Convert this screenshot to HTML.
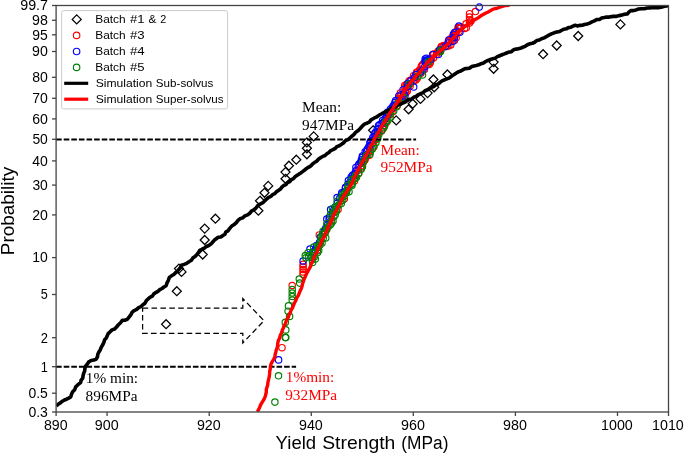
<!DOCTYPE html>
<html lang="en">
<head>
<meta charset="utf-8">
<title>Yield Strength Probability Plot</title>
<style>
html,body{margin:0;padding:0;background:#fff;}
body{width:685px;height:454px;overflow:hidden;font-family:"Liberation Sans",sans-serif;}
svg{display:block;will-change:transform;}
</style>
</head>
<body>
<svg width="685" height="454" viewBox="0 0 685 454" font-family="'Liberation Sans', sans-serif">
<rect x="0" y="0" width="685" height="454" fill="#fff"/>
<defs><clipPath id="ax"><rect x="56.1" y="5.5" width="612.4" height="406.5"/></clipPath></defs>
<g fill="none" stroke="#000" stroke-width="1.25">
<path d="M166.1 319.7L170.6 324.2L166.1 328.7L161.6 324.2Z"/>
<path d="M176.8 286.7L181.3 291.2L176.8 295.7L172.3 291.2Z"/>
<path d="M179.0 264.1L183.5 268.6L179.0 273.1L174.5 268.6Z"/>
<path d="M181.5 267.4L186.0 271.9L181.5 276.4L177.0 271.9Z"/>
<path d="M202.7 250.0L207.2 254.5L202.7 259.0L198.2 254.5Z"/>
<path d="M204.7 235.5L209.2 240.0L204.7 244.5L200.2 240.0Z"/>
<path d="M204.7 224.1L209.2 228.6L204.7 233.1L200.2 228.6Z"/>
<path d="M215.4 214.2L219.9 218.7L215.4 223.2L210.9 218.7Z"/>
<path d="M258.4 206.2L262.9 210.7L258.4 215.2L253.9 210.7Z"/>
<path d="M260.0 196.3L264.5 200.8L260.0 205.3L255.5 200.8Z"/>
<path d="M264.5 188.3L269.0 192.8L264.5 197.3L260.0 192.8Z"/>
<path d="M268.2 181.4L272.7 185.9L268.2 190.4L263.7 185.9Z"/>
<path d="M285.5 174.3L290.0 178.8L285.5 183.3L281.0 178.8Z"/>
<path d="M285.5 167.6L290.0 172.1L285.5 176.6L281.0 172.1Z"/>
<path d="M288.9 161.2L293.4 165.7L288.9 170.2L284.4 165.7Z"/>
<path d="M296.3 155.2L300.8 159.7L296.3 164.2L291.8 159.7Z"/>
<path d="M306.9 149.8L311.4 154.3L306.9 158.8L302.4 154.3Z"/>
<path d="M306.9 143.8L311.4 148.3L306.9 152.8L302.4 148.3Z"/>
<path d="M306.9 137.9L311.4 142.4L306.9 146.9L302.4 142.4Z"/>
<path d="M313.7 131.9L318.2 136.4L313.7 140.9L309.2 136.4Z"/>
<path d="M373.1 125.8L377.6 130.3L373.1 134.8L368.6 130.3Z"/>
<path d="M396.2 115.9L400.7 120.4L396.2 124.9L391.7 120.4Z"/>
<path d="M408.6 104.8L413.1 109.3L408.6 113.8L404.1 109.3Z"/>
<path d="M412.7 99.3L417.2 103.8L412.7 108.3L408.2 103.8Z"/>
<path d="M420.5 94.4L425.0 98.9L420.5 103.4L416.0 98.9Z"/>
<path d="M427.6 88.6L432.1 93.1L427.6 97.6L423.1 93.1Z"/>
<path d="M434.2 82.8L438.7 87.3L434.2 91.8L429.7 87.3Z"/>
<path d="M433.4 75.0L437.9 79.5L433.4 84.0L428.9 79.5Z"/>
<path d="M447.4 70.0L451.9 74.5L447.4 79.0L442.9 74.5Z"/>
<path d="M493.6 57.6L498.1 62.1L493.6 66.6L489.1 62.1Z"/>
<path d="M493.6 64.3L498.1 68.8L493.6 73.3L489.1 68.8Z"/>
<path d="M543.1 49.7L547.6 54.2L543.1 58.7L538.6 54.2Z"/>
<path d="M556.7 41.0L561.2 45.5L556.7 50.0L552.2 45.5Z"/>
<path d="M578.2 31.5L582.7 36.0L578.2 40.5L573.7 36.0Z"/>
<path d="M620.4 19.9L624.9 24.4L620.4 28.9L615.9 24.4Z"/>
</g>
<g fill="none" stroke="#ff0000" stroke-width="1.15">
<circle cx="282.0" cy="347.7" r="3.2"/>
<circle cx="292.2" cy="285.5" r="3.2"/>
<circle cx="303.1" cy="264.4" r="3.2"/>
<circle cx="303.1" cy="267.0" r="3.2"/>
<circle cx="303.1" cy="269.5" r="3.2"/>
<circle cx="303.1" cy="272.0" r="3.2"/>
<circle cx="303.1" cy="274.5" r="3.2"/>
<circle cx="319.3" cy="234.9" r="3.2"/>
<circle cx="475.4" cy="11.5" r="3.2"/>
<circle cx="469.5" cy="13.7" r="3.2"/>
<circle cx="469.5" cy="17.0" r="3.2"/>
<circle cx="469.5" cy="20.0" r="3.2"/>
<circle cx="469.5" cy="23.0" r="3.2"/>
<circle cx="471.0" cy="21.0" r="3.2"/>
<circle cx="458.0" cy="27.5" r="3.2"/>
<circle cx="317.6" cy="250.0" r="3.2"/>
<circle cx="325.1" cy="232.3" r="3.2"/>
<circle cx="331.2" cy="220.5" r="3.2"/>
<circle cx="338.1" cy="209.5" r="3.2"/>
<circle cx="344.4" cy="198.8" r="3.2"/>
<circle cx="354.5" cy="181.0" r="3.2"/>
<circle cx="355.2" cy="175.7" r="3.2"/>
<circle cx="355.3" cy="173.9" r="3.2"/>
<circle cx="358.7" cy="173.4" r="3.2"/>
<circle cx="358.3" cy="170.2" r="3.2"/>
<circle cx="361.0" cy="168.4" r="3.2"/>
<circle cx="361.5" cy="165.7" r="3.2"/>
<circle cx="363.4" cy="161.8" r="3.2"/>
<circle cx="364.7" cy="160.3" r="3.2"/>
<circle cx="365.4" cy="158.4" r="3.2"/>
<circle cx="367.1" cy="156.0" r="3.2"/>
<circle cx="369.4" cy="155.2" r="3.2"/>
<circle cx="369.1" cy="152.3" r="3.2"/>
<circle cx="370.7" cy="150.2" r="3.2"/>
<circle cx="369.8" cy="147.3" r="3.2"/>
<circle cx="373.7" cy="147.1" r="3.2"/>
<circle cx="372.7" cy="143.2" r="3.2"/>
<circle cx="373.7" cy="140.5" r="3.2"/>
<circle cx="377.0" cy="139.3" r="3.2"/>
<circle cx="375.9" cy="135.2" r="3.2"/>
<circle cx="379.1" cy="132.6" r="3.2"/>
<circle cx="381.5" cy="130.9" r="3.2"/>
<circle cx="382.9" cy="129.0" r="3.2"/>
<circle cx="384.4" cy="126.3" r="3.2"/>
<circle cx="385.1" cy="123.3" r="3.2"/>
<circle cx="386.6" cy="122.2" r="3.2"/>
<circle cx="386.3" cy="117.6" r="3.2"/>
<circle cx="387.4" cy="115.5" r="3.2"/>
<circle cx="390.0" cy="114.8" r="3.2"/>
<circle cx="390.8" cy="112.2" r="3.2"/>
<circle cx="392.8" cy="111.7" r="3.2"/>
<circle cx="392.8" cy="108.6" r="3.2"/>
<circle cx="393.5" cy="106.6" r="3.2"/>
<circle cx="397.3" cy="105.6" r="3.2"/>
<circle cx="398.4" cy="101.8" r="3.2"/>
<circle cx="398.2" cy="99.0" r="3.2"/>
<circle cx="400.9" cy="99.4" r="3.2"/>
<circle cx="401.8" cy="100.0" r="3.2"/>
<circle cx="399.7" cy="96.9" r="3.2"/>
<circle cx="402.7" cy="97.3" r="3.2"/>
<circle cx="400.8" cy="94.8" r="3.2"/>
<circle cx="403.4" cy="95.2" r="3.2"/>
<circle cx="400.4" cy="92.9" r="3.2"/>
<circle cx="403.9" cy="93.6" r="3.2"/>
<circle cx="405.8" cy="92.9" r="3.2"/>
<circle cx="405.9" cy="91.9" r="3.2"/>
<circle cx="405.4" cy="90.4" r="3.2"/>
<circle cx="407.3" cy="90.9" r="3.2"/>
<circle cx="404.9" cy="87.4" r="3.2"/>
<circle cx="404.7" cy="85.5" r="3.2"/>
<circle cx="408.2" cy="86.3" r="3.2"/>
<circle cx="406.8" cy="84.2" r="3.2"/>
<circle cx="410.1" cy="85.9" r="3.2"/>
<circle cx="410.5" cy="83.5" r="3.2"/>
<circle cx="409.1" cy="81.0" r="3.2"/>
<circle cx="410.7" cy="80.0" r="3.2"/>
<circle cx="413.4" cy="81.1" r="3.2"/>
<circle cx="414.6" cy="80.1" r="3.2"/>
<circle cx="415.9" cy="80.0" r="3.2"/>
<circle cx="413.6" cy="75.7" r="3.2"/>
<circle cx="417.3" cy="78.2" r="3.2"/>
<circle cx="417.5" cy="76.7" r="3.2"/>
<circle cx="416.4" cy="73.9" r="3.2"/>
<circle cx="416.5" cy="72.6" r="3.2"/>
<circle cx="417.6" cy="71.7" r="3.2"/>
<circle cx="421.0" cy="73.3" r="3.2"/>
<circle cx="420.8" cy="71.4" r="3.2"/>
<circle cx="419.7" cy="69.8" r="3.2"/>
<circle cx="421.7" cy="70.0" r="3.2"/>
<circle cx="424.4" cy="69.4" r="3.2"/>
<circle cx="421.3" cy="66.3" r="3.2"/>
<circle cx="422.5" cy="64.9" r="3.2"/>
<circle cx="423.0" cy="63.9" r="3.2"/>
<circle cx="427.0" cy="64.8" r="3.2"/>
<circle cx="427.6" cy="64.5" r="3.2"/>
<circle cx="429.2" cy="64.5" r="3.2"/>
<circle cx="428.6" cy="62.8" r="3.2"/>
<circle cx="430.4" cy="62.4" r="3.2"/>
<circle cx="429.5" cy="58.8" r="3.2"/>
<circle cx="431.6" cy="58.7" r="3.2"/>
<circle cx="433.5" cy="57.9" r="3.2"/>
<circle cx="432.7" cy="54.8" r="3.2"/>
<circle cx="433.8" cy="54.1" r="3.2"/>
<circle cx="436.5" cy="54.5" r="3.2"/>
<circle cx="437.5" cy="52.7" r="3.2"/>
<circle cx="438.3" cy="51.0" r="3.2"/>
<circle cx="440.3" cy="51.1" r="3.2"/>
<circle cx="440.9" cy="49.6" r="3.2"/>
<circle cx="441.0" cy="47.5" r="3.2"/>
<circle cx="441.4" cy="46.6" r="3.2"/>
<circle cx="442.0" cy="46.4" r="3.2"/>
<circle cx="443.5" cy="45.6" r="3.2"/>
<circle cx="446.2" cy="46.5" r="3.2"/>
<circle cx="447.6" cy="46.1" r="3.2"/>
<circle cx="448.9" cy="45.8" r="3.2"/>
<circle cx="450.7" cy="44.9" r="3.2"/>
<circle cx="448.5" cy="40.8" r="3.2"/>
<circle cx="450.1" cy="40.5" r="3.2"/>
<circle cx="451.9" cy="40.1" r="3.2"/>
<circle cx="454.4" cy="40.6" r="3.2"/>
<circle cx="452.0" cy="37.2" r="3.2"/>
<circle cx="453.6" cy="37.0" r="3.2"/>
<circle cx="456.1" cy="37.8" r="3.2"/>
<circle cx="454.2" cy="35.5" r="3.2"/>
<circle cx="455.7" cy="34.4" r="3.2"/>
<circle cx="454.6" cy="32.5" r="3.2"/>
<circle cx="456.8" cy="31.1" r="3.2"/>
<circle cx="458.9" cy="31.5" r="3.2"/>
<circle cx="458.9" cy="28.4" r="3.2"/>
<circle cx="459.9" cy="28.6" r="3.2"/>
<circle cx="460.9" cy="27.0" r="3.2"/>
<circle cx="464.6" cy="28.4" r="3.2"/>
<circle cx="466.3" cy="27.8" r="3.2"/>
<circle cx="466.1" cy="23.8" r="3.2"/>
</g>
<g fill="none" stroke="#0000ff" stroke-width="1.15">
<circle cx="278.6" cy="359.9" r="3.2"/>
<circle cx="303.1" cy="261.0" r="3.2"/>
<circle cx="310.0" cy="249.0" r="3.2"/>
<circle cx="326.8" cy="219.0" r="3.2"/>
<circle cx="330.6" cy="209.6" r="3.2"/>
<circle cx="337.1" cy="197.5" r="3.2"/>
<circle cx="341.8" cy="192.8" r="3.2"/>
<circle cx="345.6" cy="187.2" r="3.2"/>
<circle cx="348.4" cy="180.6" r="3.2"/>
<circle cx="351.2" cy="176.9" r="3.2"/>
<circle cx="479.2" cy="7.1" r="3.2"/>
<circle cx="458.9" cy="26.0" r="3.2"/>
<circle cx="449.0" cy="39.7" r="3.2"/>
<circle cx="453.4" cy="34.2" r="3.2"/>
<circle cx="413.7" cy="87.0" r="3.2"/>
<circle cx="404.9" cy="95.9" r="3.2"/>
<circle cx="425.2" cy="59.0" r="3.2"/>
<circle cx="425.8" cy="60.5" r="3.2"/>
<circle cx="426.4" cy="58.2" r="3.2"/>
<circle cx="425.0" cy="61.5" r="3.2"/>
<circle cx="311.0" cy="257.3" r="3.2"/>
<circle cx="312.9" cy="251.9" r="3.2"/>
<circle cx="315.3" cy="250.0" r="3.2"/>
<circle cx="316.5" cy="245.4" r="3.2"/>
<circle cx="319.6" cy="242.2" r="3.2"/>
<circle cx="320.5" cy="237.0" r="3.2"/>
<circle cx="323.0" cy="234.2" r="3.2"/>
<circle cx="324.4" cy="230.7" r="3.2"/>
<circle cx="325.7" cy="228.3" r="3.2"/>
<circle cx="327.8" cy="224.4" r="3.2"/>
<circle cx="329.1" cy="219.5" r="3.2"/>
<circle cx="329.4" cy="217.2" r="3.2"/>
<circle cx="332.4" cy="213.5" r="3.2"/>
<circle cx="333.8" cy="210.1" r="3.2"/>
<circle cx="335.6" cy="206.4" r="3.2"/>
<circle cx="337.6" cy="202.7" r="3.2"/>
<circle cx="339.7" cy="198.3" r="3.2"/>
<circle cx="341.6" cy="194.4" r="3.2"/>
<circle cx="344.3" cy="191.8" r="3.2"/>
<circle cx="345.4" cy="188.1" r="3.2"/>
<circle cx="347.8" cy="184.5" r="3.2"/>
<circle cx="349.9" cy="182.2" r="3.2"/>
<circle cx="351.3" cy="178.8" r="3.2"/>
<circle cx="352.7" cy="175.0" r="3.2"/>
<circle cx="354.4" cy="175.3" r="3.2"/>
<circle cx="355.1" cy="174.7" r="3.2"/>
<circle cx="355.4" cy="171.9" r="3.2"/>
<circle cx="356.5" cy="170.3" r="3.2"/>
<circle cx="355.9" cy="167.4" r="3.2"/>
<circle cx="358.3" cy="165.4" r="3.2"/>
<circle cx="359.0" cy="163.9" r="3.2"/>
<circle cx="360.7" cy="162.6" r="3.2"/>
<circle cx="361.5" cy="161.2" r="3.2"/>
<circle cx="361.4" cy="159.7" r="3.2"/>
<circle cx="362.4" cy="157.3" r="3.2"/>
<circle cx="362.4" cy="155.9" r="3.2"/>
<circle cx="365.5" cy="155.3" r="3.2"/>
<circle cx="365.2" cy="151.8" r="3.2"/>
<circle cx="366.6" cy="151.2" r="3.2"/>
<circle cx="367.4" cy="148.9" r="3.2"/>
<circle cx="368.8" cy="146.7" r="3.2"/>
<circle cx="370.1" cy="145.8" r="3.2"/>
<circle cx="369.9" cy="143.4" r="3.2"/>
<circle cx="370.2" cy="142.0" r="3.2"/>
<circle cx="371.1" cy="140.7" r="3.2"/>
<circle cx="373.0" cy="139.8" r="3.2"/>
<circle cx="372.8" cy="137.4" r="3.2"/>
<circle cx="374.1" cy="136.4" r="3.2"/>
<circle cx="374.6" cy="133.7" r="3.2"/>
<circle cx="375.3" cy="132.6" r="3.2"/>
<circle cx="377.3" cy="132.3" r="3.2"/>
<circle cx="377.2" cy="129.5" r="3.2"/>
<circle cx="378.5" cy="128.5" r="3.2"/>
<circle cx="378.6" cy="125.5" r="3.2"/>
<circle cx="379.9" cy="124.5" r="3.2"/>
<circle cx="382.0" cy="123.4" r="3.2"/>
<circle cx="383.1" cy="122.6" r="3.2"/>
<circle cx="382.6" cy="120.4" r="3.2"/>
<circle cx="385.1" cy="118.7" r="3.2"/>
<circle cx="386.1" cy="117.7" r="3.2"/>
<circle cx="386.7" cy="115.9" r="3.2"/>
<circle cx="388.4" cy="114.7" r="3.2"/>
<circle cx="387.5" cy="112.3" r="3.2"/>
<circle cx="389.4" cy="111.6" r="3.2"/>
<circle cx="390.6" cy="108.9" r="3.2"/>
<circle cx="392.1" cy="108.0" r="3.2"/>
<circle cx="393.1" cy="106.0" r="3.2"/>
<circle cx="394.0" cy="104.9" r="3.2"/>
<circle cx="394.9" cy="102.6" r="3.2"/>
<circle cx="395.7" cy="100.5" r="3.2"/>
<circle cx="399.7" cy="100.7" r="3.2"/>
<circle cx="398.8" cy="96.0" r="3.2"/>
<circle cx="404.1" cy="93.8" r="3.2"/>
<circle cx="403.1" cy="89.7" r="3.2"/>
<circle cx="407.3" cy="86.7" r="3.2"/>
<circle cx="407.9" cy="83.5" r="3.2"/>
<circle cx="410.9" cy="80.8" r="3.2"/>
<circle cx="414.5" cy="77.5" r="3.2"/>
<circle cx="415.8" cy="74.7" r="3.2"/>
<circle cx="420.6" cy="72.3" r="3.2"/>
<circle cx="423.0" cy="69.7" r="3.2"/>
<circle cx="424.7" cy="66.7" r="3.2"/>
<circle cx="425.6" cy="62.4" r="3.2"/>
<circle cx="430.6" cy="59.5" r="3.2"/>
<circle cx="432.9" cy="54.4" r="3.2"/>
<circle cx="438.4" cy="54.5" r="3.2"/>
<circle cx="439.7" cy="50.1" r="3.2"/>
<circle cx="445.1" cy="46.6" r="3.2"/>
<circle cx="448.0" cy="42.9" r="3.2"/>
<circle cx="452.9" cy="41.3" r="3.2"/>
<circle cx="454.3" cy="37.7" r="3.2"/>
<circle cx="454.9" cy="32.4" r="3.2"/>
<circle cx="459.9" cy="32.2" r="3.2"/>
</g>
<g fill="none" stroke="#008000" stroke-width="1.15">
<circle cx="274.9" cy="402.1" r="3.2"/>
<circle cx="278.5" cy="375.8" r="3.2"/>
<circle cx="285.8" cy="337.6" r="3.2"/>
<circle cx="285.3" cy="337.4" r="3.2"/>
<circle cx="285.8" cy="329.9" r="3.2"/>
<circle cx="285.3" cy="322.4" r="3.2"/>
<circle cx="289.6" cy="316.4" r="3.2"/>
<circle cx="288.1" cy="311.2" r="3.2"/>
<circle cx="288.5" cy="305.9" r="3.2"/>
<circle cx="292.2" cy="300.0" r="3.2"/>
<circle cx="292.2" cy="296.5" r="3.2"/>
<circle cx="292.2" cy="293.0" r="3.2"/>
<circle cx="292.2" cy="289.6" r="3.2"/>
<circle cx="299.7" cy="283.1" r="3.2"/>
<circle cx="299.3" cy="279.0" r="3.2"/>
<circle cx="305.9" cy="257.8" r="3.2"/>
<circle cx="308.7" cy="256.0" r="3.2"/>
<circle cx="305.3" cy="255.5" r="3.2"/>
<circle cx="308.1" cy="252.7" r="3.2"/>
<circle cx="313.7" cy="247.1" r="3.2"/>
<circle cx="320.3" cy="242.4" r="3.2"/>
<circle cx="321.2" cy="236.8" r="3.2"/>
<circle cx="323.1" cy="231.2" r="3.2"/>
<circle cx="326.8" cy="223.7" r="3.2"/>
<circle cx="330.6" cy="214.3" r="3.2"/>
<circle cx="332.5" cy="208.7" r="3.2"/>
<circle cx="337.1" cy="201.2" r="3.2"/>
<circle cx="342.8" cy="194.7" r="3.2"/>
<circle cx="346.5" cy="190.9" r="3.2"/>
<circle cx="351.2" cy="184.4" r="3.2"/>
<circle cx="354.9" cy="178.7" r="3.2"/>
<circle cx="440.8" cy="50.2" r="3.2"/>
<circle cx="422.5" cy="74.9" r="3.2"/>
<circle cx="312.6" cy="262.4" r="3.2"/>
<circle cx="312.3" cy="259.8" r="3.2"/>
<circle cx="315.3" cy="258.9" r="3.2"/>
<circle cx="314.4" cy="256.8" r="3.2"/>
<circle cx="314.2" cy="255.4" r="3.2"/>
<circle cx="313.2" cy="253.1" r="3.2"/>
<circle cx="317.6" cy="252.6" r="3.2"/>
<circle cx="318.7" cy="250.6" r="3.2"/>
<circle cx="317.8" cy="247.4" r="3.2"/>
<circle cx="318.1" cy="245.9" r="3.2"/>
<circle cx="320.0" cy="244.9" r="3.2"/>
<circle cx="322.0" cy="242.9" r="3.2"/>
<circle cx="321.0" cy="240.1" r="3.2"/>
<circle cx="323.2" cy="238.3" r="3.2"/>
<circle cx="325.7" cy="237.9" r="3.2"/>
<circle cx="322.8" cy="234.2" r="3.2"/>
<circle cx="325.0" cy="232.9" r="3.2"/>
<circle cx="326.7" cy="229.8" r="3.2"/>
<circle cx="327.0" cy="228.2" r="3.2"/>
<circle cx="328.8" cy="226.1" r="3.2"/>
<circle cx="330.4" cy="224.8" r="3.2"/>
<circle cx="331.6" cy="223.0" r="3.2"/>
<circle cx="333.0" cy="221.0" r="3.2"/>
<circle cx="331.0" cy="216.8" r="3.2"/>
<circle cx="333.9" cy="216.8" r="3.2"/>
<circle cx="335.2" cy="214.8" r="3.2"/>
<circle cx="334.3" cy="211.8" r="3.2"/>
<circle cx="336.3" cy="211.6" r="3.2"/>
<circle cx="336.7" cy="208.8" r="3.2"/>
<circle cx="335.8" cy="206.8" r="3.2"/>
<circle cx="339.0" cy="204.8" r="3.2"/>
<circle cx="341.3" cy="203.5" r="3.2"/>
<circle cx="340.8" cy="201.2" r="3.2"/>
<circle cx="342.7" cy="200.2" r="3.2"/>
<circle cx="341.8" cy="197.0" r="3.2"/>
<circle cx="343.9" cy="196.6" r="3.2"/>
<circle cx="345.2" cy="193.0" r="3.2"/>
<circle cx="346.5" cy="192.7" r="3.2"/>
<circle cx="349.0" cy="191.7" r="3.2"/>
<circle cx="347.5" cy="188.9" r="3.2"/>
<circle cx="348.0" cy="185.3" r="3.2"/>
<circle cx="352.0" cy="185.6" r="3.2"/>
<circle cx="352.3" cy="183.3" r="3.2"/>
<circle cx="351.4" cy="179.8" r="3.2"/>
<circle cx="355.0" cy="178.3" r="3.2"/>
<circle cx="356.5" cy="177.3" r="3.2"/>
<circle cx="355.4" cy="175.7" r="3.2"/>
<circle cx="358.6" cy="173.2" r="3.2"/>
<circle cx="361.2" cy="169.2" r="3.2"/>
<circle cx="362.5" cy="166.6" r="3.2"/>
<circle cx="362.8" cy="162.9" r="3.2"/>
<circle cx="364.2" cy="160.0" r="3.2"/>
<circle cx="366.3" cy="155.6" r="3.2"/>
<circle cx="370.0" cy="154.3" r="3.2"/>
<circle cx="370.2" cy="151.8" r="3.2"/>
<circle cx="372.4" cy="149.1" r="3.2"/>
<circle cx="374.0" cy="145.8" r="3.2"/>
<circle cx="375.9" cy="142.7" r="3.2"/>
<circle cx="377.8" cy="138.3" r="3.2"/>
<circle cx="378.8" cy="134.4" r="3.2"/>
<circle cx="381.5" cy="130.7" r="3.2"/>
<circle cx="383.6" cy="127.7" r="3.2"/>
<circle cx="384.6" cy="125.6" r="3.2"/>
<circle cx="385.7" cy="122.0" r="3.2"/>
<circle cx="387.8" cy="120.6" r="3.2"/>
<circle cx="390.2" cy="117.7" r="3.2"/>
<circle cx="389.9" cy="113.6" r="3.2"/>
<circle cx="393.7" cy="110.8" r="3.2"/>
<circle cx="396.7" cy="106.8" r="3.2"/>
<circle cx="398.7" cy="102.4" r="3.2"/>
<circle cx="403.6" cy="97.6" r="3.2"/>
<circle cx="409.2" cy="83.9" r="3.2"/>
<circle cx="418.1" cy="76.0" r="3.2"/>
<circle cx="428.7" cy="61.6" r="3.2"/>
<circle cx="440.4" cy="51.7" r="3.2"/>
</g>
<path d="M56.1 139.45H416.1" stroke="#000" stroke-width="2.1" stroke-dasharray="5.6 2.0" fill="none"/>
<path d="M56.1 366.7H296.1" stroke="#000" stroke-width="2.1" stroke-dasharray="5.6 2.0" fill="none"/>
<g clip-path="url(#ax)" fill="none" stroke-linejoin="round" stroke-linecap="butt">
<path d="M56.30 406.10L58.15 404.24L60.40 402.87L62.40 401.20L64.41 400.02L66.60 399.20L68.69 398.17L70.70 397.00L71.50 394.31L72.67 391.81L74.71 389.74L75.60 387.10L77.92 384.65L80.60 382.60L81.16 380.14L82.78 378.05L83.10 375.50L83.67 373.22L84.66 371.04L84.87 368.67L85.50 366.40L87.27 364.19L88.80 361.80L91.17 360.51L93.85 360.07L96.30 359.00L97.49 356.62L97.90 354.00L99.02 351.81L100.34 349.72L101.20 347.40L102.77 344.79L104.00 342.00L104.62 339.69L106.35 337.93L107.24 335.74L108.20 333.60L110.14 331.78L112.03 329.90L114.68 328.96L116.50 327.00L118.41 324.78L120.55 322.76L122.30 320.40L124.84 320.26L127.20 319.30L129.06 317.03L130.91 314.76L132.20 312.10L134.27 310.52L136.67 309.41L138.59 307.61L141.03 306.57L142.90 304.70L144.99 303.21L146.19 300.82L148.02 299.07L149.88 297.35L152.26 296.15L153.70 294.00L155.73 292.56L157.91 291.35L159.78 289.67L161.97 288.47L163.96 286.98L166.10 285.70L167.05 282.87L168.39 280.20L169.40 277.40L171.51 275.82L173.78 274.45L175.68 272.61L177.60 270.80L179.93 268.32L181.50 265.30L184.15 264.40L186.69 263.28L189.01 261.72L191.40 260.30L192.78 258.08L195.02 256.59L196.77 254.69L198.38 252.67L199.70 250.40L202.01 249.24L204.36 248.16L206.37 246.45L208.80 245.50L210.89 244.10L212.55 242.21L214.19 240.30L216.20 238.80L218.22 237.27L220.84 236.95L222.90 235.50L224.93 234.24L225.87 231.89L228.07 230.80L229.41 228.85L230.85 227.01L232.61 225.47L234.62 224.20L236.35 222.63L237.70 220.70L239.92 218.82L242.71 217.91L244.87 215.92L247.60 214.90L249.76 213.26L251.47 211.12L253.88 209.75L255.96 208.01L257.60 205.80L260.07 204.04L262.85 202.71L265.00 200.50L266.84 198.95L268.65 197.36L270.94 196.45L272.54 194.56L274.80 193.60L276.42 191.79L278.40 190.41L280.38 189.03L281.89 187.09L283.64 185.44L286.06 184.58L287.50 182.55L289.79 181.54L291.30 179.60L293.42 178.60L294.95 176.79L296.86 175.51L298.76 174.22L300.71 172.98L302.54 171.59L304.38 170.20L306.20 168.80L308.34 167.36L310.62 166.09L312.39 164.16L314.40 162.54L316.66 161.24L318.40 159.27L320.51 157.78L322.70 156.40L325.06 155.50L326.86 153.74L328.95 152.43L330.71 150.60L333.02 149.63L335.20 148.45L336.94 146.59L339.30 145.70L341.51 144.26L343.66 142.74L345.44 140.69L347.94 139.65L350.00 138.00L351.89 136.14L353.97 134.48L355.64 132.38L357.82 130.83L359.76 129.02L361.50 127.00L363.13 125.19L365.09 123.84L367.41 123.01L369.53 121.88L371.01 119.86L373.10 118.70L375.14 117.52L377.27 116.51L379.19 115.11L381.28 114.02L383.31 112.83L385.41 111.75L387.59 110.83L389.60 109.60L391.70 108.30L393.94 107.28L396.33 106.57L398.17 104.73L400.63 104.17L402.80 103.00L405.12 102.13L407.11 100.61L409.26 99.43L411.75 98.90L413.67 97.24L416.00 96.40L418.15 94.78L420.60 93.70L423.07 92.63L425.06 90.74L427.60 89.80L429.55 88.41L431.61 87.21L433.94 86.47L435.77 84.88L438.05 84.05L439.90 82.50L442.05 80.92L444.45 79.82L446.94 78.87L449.38 77.83L451.50 76.20L453.79 74.83L455.99 73.30L458.25 71.88L460.80 70.95L463.10 69.60L465.20 68.59L467.60 68.56L469.81 67.91L471.80 66.53L474.03 65.95L476.30 65.50L478.78 64.86L481.07 63.73L483.50 62.94L485.66 61.51L487.93 60.34L490.36 59.55L492.80 58.80L495.25 58.12L497.34 56.61L499.69 55.70L502.04 54.80L504.40 53.90L506.57 52.98L508.76 52.14L511.16 51.83L513.07 50.21L515.21 49.22L517.60 48.90L520.25 48.33L522.68 47.25L525.19 46.33L527.41 44.75L529.90 43.80L532.42 43.25L534.73 42.23L536.74 40.52L539.29 40.05L541.50 38.80L544.14 37.91L546.53 36.51L548.93 35.14L551.40 33.90L554.10 32.84L556.88 32.07L559.70 31.40L561.79 30.24L563.92 29.19L566.34 28.84L568.41 27.65L570.83 27.30L572.90 26.10L575.15 25.28L577.60 25.90L579.89 25.35L582.24 25.28L584.50 24.50L587.12 24.01L589.60 23.11L591.95 21.88L594.40 20.90L596.71 19.57L599.44 19.51L601.71 18.08L604.30 17.60L606.69 17.05L609.16 17.11L611.55 16.63L613.95 16.17L616.45 16.41L618.80 15.60L621.69 15.15L624.50 14.30L627.40 13.90L628.86 12.06L630.70 10.60L633.40 10.64L636.00 9.90L638.60 9.00L641.45 8.70L644.33 8.76L647.13 8.01L650.00 7.90L652.73 7.42L655.50 7.64L658.27 7.80L661.00 7.30L664.50 6.30L668.60 5.70" stroke="#000" stroke-width="3.6"/>
<path d="M257.40 411.80L258.60 409.40L259.80 406.99L260.80 404.50L262.42 401.95L263.97 399.36L265.20 396.60L265.79 394.28L266.35 391.95L266.27 389.50L266.98 387.20L267.71 384.90L267.90 382.50L268.55 379.58L269.27 376.68L269.60 373.70L269.72 371.24L270.28 368.85L270.50 366.40L271.00 364.00L272.32 361.68L273.64 359.35L274.90 357.00L275.13 354.55L275.76 352.19L276.31 349.81L277.20 347.51L277.63 345.11L277.79 342.64L278.50 340.30L279.65 337.91L280.26 335.30L281.51 332.95L282.21 330.38L283.40 328.00L284.06 325.70L285.47 323.72L286.04 321.38L286.98 319.20L288.33 317.20L289.00 314.90L290.32 312.57L291.13 310.01L292.61 307.76L293.50 305.23L294.60 302.80L295.84 300.41L296.72 297.85L298.26 295.59L299.26 293.09L300.30 290.60L301.33 288.51L302.06 286.31L302.49 284.01L303.29 281.84L303.94 279.62L304.90 277.50L305.85 275.14L306.95 272.86L308.21 270.67L309.52 268.49L310.60 266.20L311.24 263.85L312.54 261.76L313.27 259.44L314.17 257.20L315.20 255.00L316.50 252.75L317.45 250.34L318.49 247.97L319.70 245.68L320.95 243.41L321.73 240.91L323.10 238.70L324.40 236.53L324.93 234.00L326.37 231.90L327.47 229.63L328.06 227.14L329.52 225.04L330.34 222.64L331.50 220.41L332.50 218.10L333.27 215.88L334.32 213.80L335.43 211.75L336.88 209.87L337.50 207.57L338.84 205.63L339.96 203.59L341.00 201.51L341.80 199.30L343.06 197.12L344.41 195.00L345.84 192.92L347.31 190.87L348.32 188.53L349.98 186.61L351.20 184.40L352.37 182.35L353.42 180.24L353.99 177.91L355.49 176.02L356.04 173.67L357.19 171.61L358.35 169.55L359.30 167.40L360.73 165.38L361.65 163.07L363.16 161.10L364.18 158.84L365.27 156.63L366.49 154.49L367.80 152.40L368.71 150.13L369.74 147.92L370.86 145.76L372.24 143.72L373.48 141.62L374.30 139.30L375.37 137.02L376.56 134.80L378.30 132.90L379.32 130.58L380.50 128.36L381.80 126.20L383.01 123.97L384.53 121.94L385.99 119.88L387.15 117.61L388.47 115.46L389.63 113.20L391.20 111.20L392.77 109.34L393.70 107.04L395.30 105.20L396.83 103.31L397.85 101.07L399.40 99.20L400.86 97.05L402.31 94.90L403.49 92.58L404.91 90.41L406.10 88.10L407.58 85.97L409.39 84.11L410.92 82.02L412.90 80.31L414.40 78.20L415.83 76.29L417.42 74.52L419.20 72.89L420.65 71.00L422.23 69.22L423.51 67.18L425.05 65.36L426.68 63.62L428.10 61.70L429.92 60.04L431.68 58.31L433.56 56.71L435.29 54.94L437.22 53.40L439.10 51.80L441.13 50.37L442.95 48.71L444.65 46.91L446.43 45.20L448.20 43.48L450.10 41.90L451.37 39.91L452.93 38.15L454.63 36.51L456.14 34.70L457.37 32.68L458.90 30.90L461.20 29.36L463.40 27.68L465.57 25.97L467.70 24.20L469.95 22.91L472.18 21.58L474.26 20.01L476.50 18.70L478.79 17.43L480.88 15.84L483.17 14.57L485.40 13.20L487.67 12.24L489.85 11.10L491.94 9.79L494.20 8.80L497.03 8.23L499.73 7.24L502.46 6.37L505.20 5.50L509.60 5.30" stroke="#ff0000" stroke-width="3.4"/>
</g>
<path d="M142.6 308.1H242.8V298.6L264 320.7L242.8 343V333.3H142.6Z" fill="none" stroke="#000" stroke-width="1.25" stroke-dasharray="5.6 3.3"/>
<rect x="56.1" y="5.5" width="612.4" height="406.5" fill="none" stroke="#444" stroke-width="1.3"/>
<g stroke="#444" stroke-width="1.3">
<path d="M52.0 5.5H56.1"/>
<path d="M52.0 20.3H56.1"/>
<path d="M52.0 34.8H56.1"/>
<path d="M52.0 51.5H56.1"/>
<path d="M52.0 77.3H56.1"/>
<path d="M52.0 98.3H56.1"/>
<path d="M52.0 118.9H56.1"/>
<path d="M52.0 139.3H56.1"/>
<path d="M52.0 160.9H56.1"/>
<path d="M52.0 185.1H56.1"/>
<path d="M52.0 214.9H56.1"/>
<path d="M52.0 257.6H56.1"/>
<path d="M52.0 294.5H56.1"/>
<path d="M52.0 337.7H56.1"/>
<path d="M52.0 366.7H56.1"/>
<path d="M52.0 393.2H56.1"/>
<path d="M52.0 412.0H56.1"/>
<path d="M56.1 412.0V416.0"/>
<path d="M107.1 412.0V416.0"/>
<path d="M209.2 412.0V416.0"/>
<path d="M311.3 412.0V416.0"/>
<path d="M413.3 412.0V416.0"/>
<path d="M515.4 412.0V416.0"/>
<path d="M617.5 412.0V416.0"/>
<path d="M668.5 412.0V416.0"/>
</g>
<text transform="translate(20.23 10.35) scale(1.0014 1)" font-size="14.26" fill="#000">99.7</text>
<text transform="translate(32.11 25.15) scale(0.9975 1)" font-size="14.26" fill="#000">98</text>
<text transform="translate(32.35 39.65) scale(0.9798 1)" font-size="14.26" fill="#000">95</text>
<text transform="translate(32.08 56.35) scale(0.9948 1)" font-size="14.26" fill="#000">90</text>
<text transform="translate(32.22 82.15) scale(0.9857 1)" font-size="14.26" fill="#000">80</text>
<text transform="translate(32.27 103.15) scale(0.9822 1)" font-size="14.26" fill="#000">70</text>
<text transform="translate(32.14 123.75) scale(0.9907 1)" font-size="14.26" fill="#000">60</text>
<text transform="translate(32.39 144.15) scale(0.9746 1)" font-size="14.26" fill="#000">50</text>
<text transform="translate(32.28 165.75) scale(0.9817 1)" font-size="14.26" fill="#000">40</text>
<text transform="translate(32.39 189.95) scale(0.9744 1)" font-size="14.26" fill="#000">30</text>
<text transform="translate(32.18 219.75) scale(0.9885 1)" font-size="14.26" fill="#000">20</text>
<text transform="translate(32.31 262.45) scale(0.9798 1)" font-size="14.26" fill="#000">10</text>
<text transform="translate(40.79 299.35) scale(0.8859 1)" font-size="14.26" fill="#000">5</text>
<text transform="translate(40.78 342.55) scale(0.9052 1)" font-size="14.26" fill="#000">2</text>
<text transform="translate(40.82 371.55) scale(0.8957 1)" font-size="14.26" fill="#000">1</text>
<text transform="translate(28.45 398.05) scale(0.9789 1)" font-size="14.26" fill="#000">0.5</text>
<text transform="translate(28.38 416.85) scale(0.9842 1)" font-size="14.26" fill="#000">0.3</text>
<text transform="translate(43.92 429.70) scale(0.9957 1)" font-size="14.26" fill="#000">890</text>
<text transform="translate(94.85 429.70) scale(1.0017 1)" font-size="14.26" fill="#000">900</text>
<text transform="translate(196.92 429.70) scale(1.0017 1)" font-size="14.26" fill="#000">920</text>
<text transform="translate(298.98 429.70) scale(1.0017 1)" font-size="14.26" fill="#000">940</text>
<text transform="translate(401.05 429.70) scale(1.0017 1)" font-size="14.26" fill="#000">960</text>
<text transform="translate(503.12 429.70) scale(1.0017 1)" font-size="14.26" fill="#000">980</text>
<text transform="translate(601.04 429.70) scale(1.0003 1)" font-size="14.26" fill="#000">1000</text>
<text transform="translate(652.08 429.70) scale(1.0003 1)" font-size="14.26" fill="#000">1010</text>
<text transform="translate(275.58 449.10) scale(1.0403 1)" font-size="17.84" fill="#000">Yield</text>
<text transform="translate(322.16 449.10) scale(1.0859 1)" font-size="17.84" fill="#000">Strength</text>
<text transform="translate(401.32 449.10) scale(0.9715 1)" font-size="17.84" fill="#000">(MPa)</text>
<g transform="translate(14.3 253.6) rotate(-90)">
<text transform="translate(-1.56 0.00) scale(1.0599 1)" font-size="17.84" fill="#000">Probability</text>
</g>
<rect x="61.6" y="10.6" width="166.0" height="98.3" rx="2" ry="2" fill="#fff" fill-opacity="0.8" stroke="#ccc" stroke-width="1"/>
<path d="M76.7 14.899999999999999L81.2 19.4L76.7 23.9L72.2 19.4Z" fill="none" stroke="#000" stroke-width="1.25"/>
<circle cx="76.6" cy="35.4" r="3.25" fill="none" stroke="#ff0000" stroke-width="1.15"/>
<circle cx="76.6" cy="51.5" r="3.25" fill="none" stroke="#0000ff" stroke-width="1.15"/>
<circle cx="76.6" cy="67.4" r="3.25" fill="none" stroke="#008000" stroke-width="1.15"/>
<path d="M64.2 83.3H88.2" stroke="#000" stroke-width="3.2"/>
<path d="M64.2 99.2H88.2" stroke="#ff0000" stroke-width="3.2"/>
<text transform="translate(95.22 22.90) scale(1.0533 1)" font-size="11.32" fill="#000">Batch</text>
<text transform="translate(129.95 22.90) scale(1.1622 1)" font-size="11.32" fill="#000">#1</text>
<text transform="translate(148.55 22.90) scale(1.0447 1)" font-size="11.32" fill="#000">&amp;</text>
<text transform="translate(160.23 22.90) scale(0.9573 1)" font-size="11.32" fill="#000">2</text>
<text transform="translate(95.22 38.85) scale(1.0533 1)" font-size="11.32" fill="#000">Batch</text>
<text transform="translate(129.95 38.85) scale(1.1656 1)" font-size="11.32" fill="#000">#3</text>
<text transform="translate(95.22 54.80) scale(1.0533 1)" font-size="11.32" fill="#000">Batch</text>
<text transform="translate(129.95 54.80) scale(1.1712 1)" font-size="11.32" fill="#000">#4</text>
<text transform="translate(95.22 70.75) scale(1.0533 1)" font-size="11.32" fill="#000">Batch</text>
<text transform="translate(129.95 70.75) scale(1.1584 1)" font-size="11.32" fill="#000">#5</text>
<text transform="translate(95.66 86.70) scale(1.0699 1)" font-size="11.32" fill="#000">Simulation</text>
<text transform="translate(155.85 86.70) scale(1.0269 1)" font-size="11.32" fill="#000">Sub-solvus</text>
<text transform="translate(95.66 102.65) scale(1.0699 1)" font-size="11.32" fill="#000">Simulation</text>
<text transform="translate(155.85 102.65) scale(1.0261 1)" font-size="11.32" fill="#000">Super-solvus</text>
<g font-family="'Liberation Serif', serif" font-size="15.3">
<text x="302.1" y="111.5" fill="#000">Mean:</text>
<text x="302.1" y="129.5" fill="#000">947MPa</text>
<text x="380.6" y="154.5" fill="#ff0000">Mean:</text>
<text x="380.6" y="172.1" fill="#ff0000">952MPa</text>
<text x="85.8" y="382.9" fill="#000">1% min:</text>
<text x="85.6" y="400.5" fill="#000">896MPa</text>
<text x="285.8" y="381.7" fill="#ff0000">1%min:</text>
<text x="285.2" y="399.7" fill="#ff0000">932MPa</text>
</g>
</svg>
</body>
</html>
